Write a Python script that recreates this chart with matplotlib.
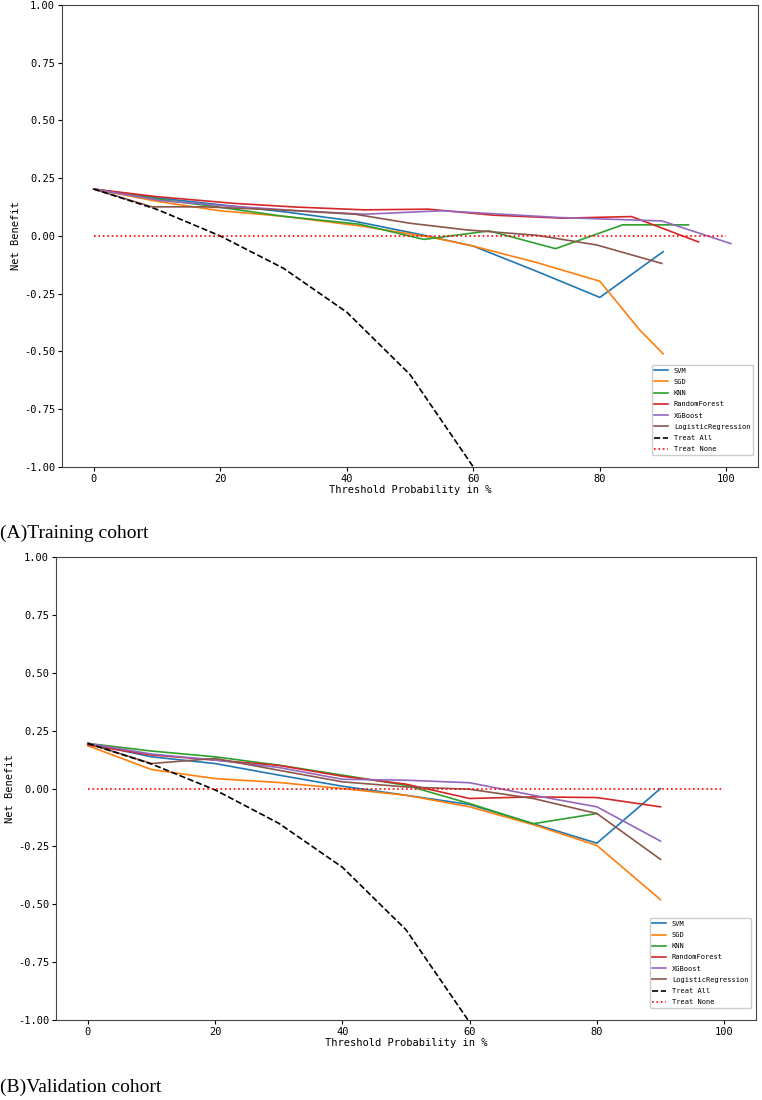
import numpy as np
import matplotlib
matplotlib.use('Agg')
import matplotlib.pyplot as plt

plt.rcParams['font.family'] = ['DejaVu Sans Mono']

MODELS = ['SVM', 'SGD', 'KNN', 'RandomForest', 'XGBoost', 'LogisticRegression']
COLORS = ['tab:blue', 'tab:orange', 'tab:green', 'tab:red', 'tab:purple', 'tab:brown']

# (A) training cohort: thresholds (%) and net benefit per model
TRAIN_X = {
  'SVM': [0, 10, 20, 30, 41, 51.5, 60, 70, 80, 90],
  'SGD': [0, 10, 20, 30, 42, 53.6, 60, 70, 80, 86.3, 90],
  'KNN': [0, 10, 20, 30, 42, 52.2, 62.5, 73, 83.6, 94],
  'RandomForest': [0, 10, 22.2, 32, 42.7, 52.9, 63.1, 74.1, 85, 95.6],
  'XGBoost': [0, 10.6, 21, 32, 42.7, 55, 64, 73.4, 89.8, 100.7],
  'LogisticRegression': [0, 9.2, 17.4, 30, 41.3, 50, 59, 70, 79.5, 89.8],
}
TRAIN_Y = {
  'SVM': [0.203, 0.165, 0.135, 0.105, 0.065, 0.007, -0.044, -0.153, -0.266, -0.068],
  'SGD': [0.203, 0.150, 0.109, 0.085, 0.044, -0.007, -0.044, -0.115, -0.196, -0.407, -0.51],
  'KNN': [0.203, 0.160, 0.124, 0.085, 0.051, -0.015, 0.022, -0.055, 0.048, 0.048],
  'RandomForest': [0.203, 0.170, 0.141, 0.125, 0.113, 0.116, 0.090, 0.077, 0.084, -0.026],
  'XGBoost': [0.203, 0.153, 0.130, 0.110, 0.094, 0.109, 0.095, 0.080, 0.065, -0.033],
  'LogisticRegression': [0.203, 0.126, 0.126, 0.112, 0.094, 0.055, 0.026, 0.003, -0.039, -0.119],
}
TRAIN_ALL_X = [0, 10, 20, 30, 40, 50, 60, 70]
TRAIN_ALL_Y = [0.203, 0.115, 0.0, -0.14, -0.33, -0.60, -1.0, -1.67]

# (B) validation cohort
VALID_X = [0, 10, 20, 30, 40, 50, 60, 70, 80, 90]
VALID_Y = {
  'SVM': [0.195, 0.137, 0.108, 0.058, 0.010, -0.029, -0.069, -0.152, -0.236, 0.0],
  'SGD': [0.185, 0.082, 0.043, 0.026, 0.0, -0.029, -0.079, -0.156, -0.246, -0.48],
  'KNN': [0.195, 0.162, 0.137, 0.101, 0.058, 0.014, -0.065, -0.152, -0.108],
  'RandomForest': [0.188, 0.145, 0.123, 0.100, 0.053, 0.019, -0.043, -0.036, -0.039, -0.079],
  'XGBoost': [0.195, 0.149, 0.123, 0.091, 0.040, 0.036, 0.025, -0.029, -0.079, -0.227],
  'LogisticRegression': [0.195, 0.108, 0.130, 0.079, 0.029, 0.007, -0.003, -0.043, -0.108, -0.306],
}
VALID_ALL_X = [0, 10, 20, 30, 40, 50, 60, 70]
VALID_ALL_Y = [0.195, 0.106, -0.006, -0.15, -0.34, -0.61, -1.01, -1.68]

NONE_X = [0, 100]
NONE_Y = [0, 0]

CAPTIONS = ['(A)Training cohort', '(B)Validation cohort']


def draw(ax, xs, ys, all_x, all_y):
  for m, c in zip(MODELS, COLORS):
    x = xs[m] if isinstance(xs, dict) else xs[:len(ys[m])]
    ax.plot(x, ys[m], color=c, lw=1.2, label=m)
  ax.plot(all_x, all_y, color='black', ls='--', lw=1.2, label='Treat All')
  ax.plot(NONE_X, NONE_Y, color='red', ls=':', lw=1.2, label='Treat None')
  ax.set_xlim(-5, 105)
  ax.set_ylim(-1, 1)
  ticks = np.arange(-1, 1.01, 0.25)
  ax.set_yticks(ticks)
  ax.set_yticklabels(['%.2f' % v for v in ticks])
  ax.set_xticks([0, 20, 40, 60, 80, 100])
  ax.tick_params(labelsize=7.5, length=3, width=0.8, pad=2)
  ax.set_xlabel('Threshold Probability in %', fontsize=7.5, labelpad=1)
  ax.set_ylabel('Net Benefit', fontsize=7.5, labelpad=2)
  for s in ax.spines.values():
    s.set_color('#444444')
  ax.legend(loc='lower right', bbox_to_anchor=(0.993, 0.026), borderaxespad=0,
            fontsize=5, handlelength=2, labelspacing=0.75, fancybox=True,
            framealpha=1)


fig = plt.figure(figsize=(7.62, 11.0), dpi=100)
ax1 = fig.add_axes([0.0814, 0.5755, 0.9134, 0.42])
ax2 = fig.add_axes([0.0735, 0.0727, 0.9186, 0.4209])

draw(ax1, TRAIN_X, TRAIN_Y, TRAIN_ALL_X, TRAIN_ALL_Y)
draw(ax2, VALID_X, VALID_Y, VALID_ALL_X, VALID_ALL_Y)

fig.text(0.0, 1 - 533 / 1100, CAPTIONS[0], fontsize=14, family='Liberation Serif', va='center')
fig.text(0.0, 1 - 1087 / 1100, CAPTIONS[1], fontsize=14, family='Liberation Serif', va='center')

plt.savefig('out.png', dpi=100)
